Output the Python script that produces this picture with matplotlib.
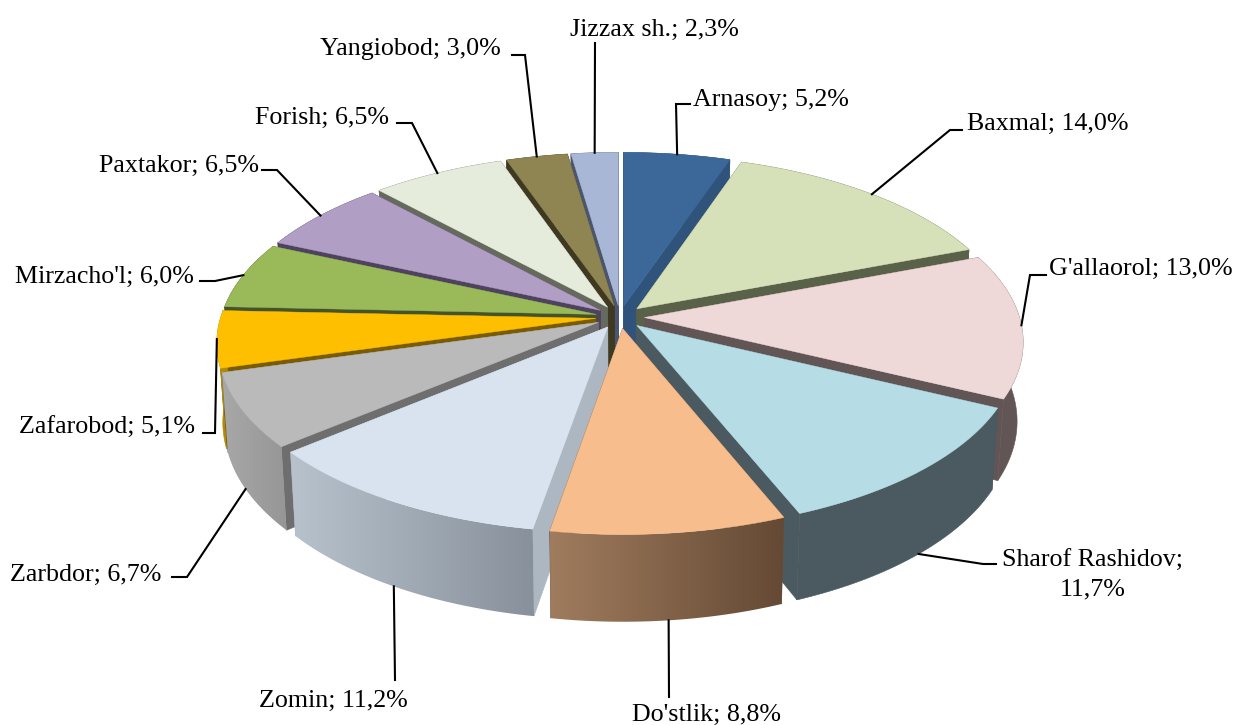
import numpy as np
import matplotlib
matplotlib.use("Agg")
import matplotlib.pyplot as plt
from matplotlib.colors import LinearSegmentedColormap
from matplotlib.patches import Polygon

## Data

districts = ["Arnasoy", "Baxmal", "G'allaorol", "Sharof Rashidov", "Do'stlik", "Zomin", "Zarbdor",
             "Zafarobod", "Mirzacho'l", "Paxtakor", "Forish", "Yangiobod", "Jizzax sh."]
shares = [5.2, 14.0, 13.0, 11.7, 8.8, 11.2, 6.7, 5.1, 6.0, 6.5, 6.5, 3.0, 2.3]

## Colours

top_colors = ["#3c6899", "#d6e1ba", "#efd9d8", "#b6dce5", "#f7bd8c", "#d9e3f0", "#bababa",
              "#fdbf00", "#9aba59", "#b09ec5", "#e6ecdc", "#8f8552", "#a8b7d6"]
cut_colors = ["#2f537b", "#596149", "#615655", "#4a5a60", "#6a5040", "#adb7c1", "#6e6e6e",
              "#7a5c00", "#43542a", "#4f4260", "#66695e", "#3e3920", "#4a5570"]
wall_left = ["#2f537b", "#596149", "#615655", "#4a5a60", "#a07c5e", "#b8c2cd", "#a8a8a8",
             "#b38a00", "#43542a", "#4f4260", "#66695e", "#3e3920", "#4a5570"]
wall_right = ["#2f537b", "#596149", "#615655", "#4a5a60", "#644934", "#88919b", "#969696",
              "#b38a00", "#43542a", "#4f4260", "#66695e", "#3e3920", "#4a5570"]

## Layout of the pie (pixels)

cx, cy = 620, 317
rx, ry = 375, 176
persp = 0.13
explode = 0.065
depth = 78
far_scale = 0.985

## Label layout: text centre, leader elbows, leader starts on lower edge or not

label_pos = [(771, 100), (1048, 124), (1141, 269), (1093, 575), (707, 715), (333, 701), (86, 575),
             (107, 428), (104, 277), (179, 166), (322, 118), (410, 49), (654, 30)]
elbows = [[(676, 104), (690, 104)], [(950, 130), (962, 130)], [(1030, 275), (1046, 275)],
          [(983, 564), (996, 564)], [(669, 697)], [(395, 680)], [(187, 577), (172, 577)],
          [(215, 433), (203, 433)], [(215, 281), (200, 281)], [(277, 170), (262, 170)],
          [(412, 123), (397, 123)], [(525, 55), (512, 55)], [(595, 43)]]
on_lower_edge = [False, False, False, True, True, True, True, False, False, False, False, False, False]
# a few anchors do not sit at the middle of the slice
anchor_shift = [0.0, 0, 0.0, 0.0, 0.0, 0.01, 0.02, 0.0, 0.0, 0.0, 0.0, 0.0, 0.0]


def project(x, y, lower=False):
    s = 1 / (1 - persp * y)
    px = rx * x * s
    py = ry * y * s
    if lower:
        return cx + px * far_scale, cy + py * far_scale + depth * s
    return cx + px, cy + py


def disc_point(angle, r, mid):
    # angle is clockwise from 12 o'clock, y points to the viewer
    ox = explode * np.sin(mid)
    oy = -explode * np.cos(mid)
    return ox + r * np.sin(angle), oy - r * np.cos(angle)


plt.rcParams['font.family'] = ['Liberation Serif', 'DejaVu Serif']
fig = plt.figure(figsize=(12.37, 7.25), dpi=100)
ax = fig.add_axes([0, 0, 1, 1])
ax.axis("off")

fracs = np.array(shares) / sum(shares)
ends = np.cumsum(fracs) * 2 * np.pi
starts = ends - fracs * 2 * np.pi
mids = (starts + ends) / 2
ramp = np.linspace(0, 1, 256).reshape(1, -1)

# back slices first, front slices paint over them
order = np.argsort(-np.cos(mids))
z = 2
for i in order:
    a0, a1, mid = starts[i], ends[i], mids[i]
    arc = np.linspace(a0, a1, 80)
    x, y = disc_point(arc, 1.0, mid)
    apex = disc_point(mid, 0.0, mid)
    top_pts = np.array([project(a, b) for a, b in zip(x, y)])
    low_pts = np.array([project(a, b, True) for a, b in zip(x, y)])
    apex_top = project(*apex)
    apex_low = project(*apex, True)

    # cut faces
    for pt_top, pt_low in [(top_pts[0], low_pts[0]), (top_pts[-1], low_pts[-1])]:
        ax.add_patch(Polygon([apex_top, pt_top, pt_low, apex_low], fc=cut_colors[i], ec=cut_colors[i],
                             lw=0.4, zorder=z))
    z += 1

    # outer wall, shaded left to right where the colours differ
    wall = np.vstack([top_pts, low_pts[::-1]])
    if wall_left[i] == wall_right[i]:
        ax.add_patch(Polygon(wall, fc=wall_left[i], ec=wall_left[i], lw=0.4, zorder=z))
    else:
        cmap = LinearSegmentedColormap.from_list("wall", [wall_left[i], wall_right[i]])
        poly = Polygon(wall, fc="none", ec="none", transform=ax.transData)
        ax.add_patch(poly)
        im = ax.imshow(ramp, cmap=cmap, extent=(wall[:, 0].min(), wall[:, 0].max(), wall[:, 1].max(), wall[:, 1].min()),
                       aspect="auto", interpolation="bilinear", zorder=z)
        im.set_clip_path(poly)
    z += 1

    ax.add_patch(Polygon(np.vstack([[apex_top], top_pts]), fc=top_colors[i], ec=top_colors[i], lw=0.3, zorder=z))
    z += 1

## Labels and leader lines

for i, name in enumerate(districts):
    pct = f"{shares[i]:.1f}".replace(".", ",")
    if name == "Sharof Rashidov":
        txt = f"{name};\n{pct}%"
    else:
        txt = f"{name}; {pct}%"
    ax.text(label_pos[i][0], label_pos[i][1], txt, ha="center", va="center", fontsize=18.7,
            color="black", linespacing=1.36, zorder=z + 2)

    ang = mids[i] + anchor_shift[i]
    sx, sy = disc_point(ang, 1.0, mids[i])
    start = project(sx, sy, on_lower_edge[i])
    line = [start] + elbows[i]
    ax.plot([p[0] for p in line], [p[1] for p in line], color="black", lw=1.5, zorder=z + 1,
            solid_joinstyle="miter")

ax.set_xlim(0, 1237)
ax.set_ylim(725, 0)
fig.savefig("out.png", dpi=100)
